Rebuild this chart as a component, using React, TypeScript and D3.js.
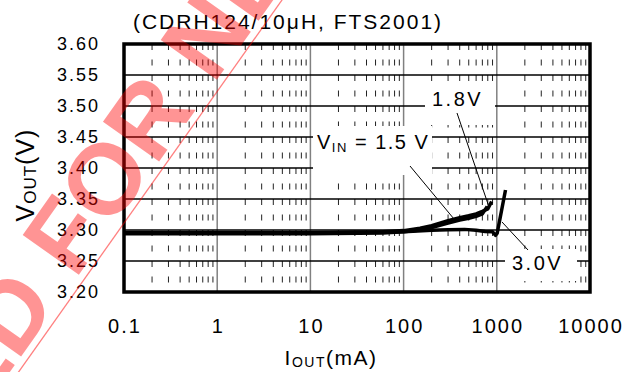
import React from "react";
import * as d3 from "d3";

const xTicks = [0.1, 1, 10, 100, 1000, 10000];
const xTickLabels = ["0.1", "1", "10", "100", "1000", "10000"];
const yTicks = [3.2, 3.25, 3.3, 3.35, 3.4, 3.45, 3.5, 3.55, 3.6];
const yTickLabels = ["3.20", "3.25", "3.30", "3.35", "3.40", "3.45", "3.50", "3.55", "3.60"];

const iout15 = [0.1, 10, 60, 100, 150, 200, 300, 400, 500, 600, 700, 790];
const vout15 = [3.294, 3.294, 3.295, 3.297, 3.3, 3.304, 3.311, 3.316, 3.319, 3.322, 3.326, 3.338];
const iout18 = [0.1, 10, 60, 100, 150, 200, 300, 400, 500, 600, 700, 800, 880];
const vout18 = [3.296, 3.296, 3.297, 3.299, 3.303, 3.307, 3.315, 3.32, 3.323, 3.326, 3.33, 3.334, 3.346];
const iout30 = [0.1, 10, 100, 200, 300, 450, 600, 750, 900, 970, 1010, 1240];
const vout30 = [3.295, 3.295, 3.297, 3.2995, 3.3005, 3.301, 3.2995, 3.2975, 3.297, 3.2915, 3.295, 3.3645];

const W = 636, H = 372;
const L = 124, R = 590, T = 44, B = 292;

export default function App() {
  const x = d3.scaleLog().domain([0.1, 10000]).range([L, R]);
  const y = d3.scaleLinear().domain([3.2, 3.6]).range([B, T]);
  const line = d3.line<[number, number]>().x(d => x(d[0])).y(d => y(d[1]));
  const series = [
    iout15.map((v, i) => [v, vout15[i]] as [number, number]),
    iout18.map((v, i) => [v, vout18[i]] as [number, number]),
    iout30.map((v, i) => [v, vout30[i]] as [number, number]),
  ];
  const minors: number[] = [];
  [0.1, 1, 10, 100, 1000].forEach(d => { for (let k = 2; k <= 9; k++) minors.push(k * d); });
  const font = "'Liberation Sans', Arial, sans-serif";
  const S = 100;
  const tF = 105;
  const base = -7;
  return (
    <svg width={W} height={H} style={{ position: "absolute", left: 0, top: 0, background: "#fff" }} fontFamily={font}>
      <rect x={0} y={0} width={W} height={H} fill="#fff" />
      {minors.map((m, i) => (
        <line key={"m" + i} x1={x(m)} x2={x(m)} y1={T} y2={B} stroke="#222" strokeWidth={1} strokeDasharray="6 9.5" />
      ))}
      {xTicks.slice(1, -1).map((t, i) => (
        <line key={"d" + i} x1={x(t)} x2={x(t)} y1={T} y2={B} stroke="#808080" strokeWidth={1.5} />
      ))}
      {yTicks.slice(1, -1).map((t, i) => (
        <line key={"h" + i} x1={L} x2={R} y1={y(t)} y2={y(t)} stroke="#000" strokeWidth={1.3} />
      ))}
      <rect x={425} y={83} width={70} height={42} fill="#fff" />
      <rect x={313} y={126} width={119} height={49} fill="#fff" />
      <rect x={505} y={249} width={72} height={32} fill="#fff" />
      <text x={432} y={106} fontSize={20} letterSpacing={2.5} fill="#000">1.8V</text>
      <text x={317} y={149} fontSize={20} letterSpacing={1.5} fill="#000">
        V<tspan fontSize={13} dy={3}>IN</tspan><tspan dy={-3}> = 1.5 V</tspan>
      </text>
      <text x={512} y={270} fontSize={20} letterSpacing={2.5} fill="#000">3.0V</text>
      <line x1={457} y1={113} x2={488} y2={204} stroke="#000" strokeWidth={1} />
      <line x1={410} y1={166} x2={454} y2={219} stroke="#000" strokeWidth={1} />
      <line x1={502} y1={222} x2={528} y2={250} stroke="#000" strokeWidth={1} />
      {series.map((s, i) => (
        <path key={"s" + i} d={line(s) || ""} fill="none" stroke="#000" strokeWidth={3.5} strokeLinejoin="round" />
      ))}
      <rect x={L} y={T} width={R - L} height={B - T} fill="none" stroke="#000" strokeWidth={3.5} />
      {yTicks.map((t, i) => (
        <text key={"yl" + i} x={100} y={y(t)} dy="0.36em" textAnchor="end" fontSize={18} letterSpacing={2} fill="#000">{yTickLabels[i]}</text>
      ))}
      {xTicks.map((t, i) => (
        <text key={"xl" + i} x={x(t) + 1} y={333} textAnchor="middle" fontSize={20} letterSpacing={2} fill="#000">{xTickLabels[i]}</text>
      ))}
      <text x={288} y={29} textAnchor="middle" fontSize={21} letterSpacing={2} fill="#000">(CDRH124/10μH, FTS2001)</text>
      <text x={331} y={365} textAnchor="middle" fontSize={21} letterSpacing={1.5} fill="#000">
        I<tspan fontSize={14} dy={2}>OUT</tspan><tspan dy={-2}>(mA)</tspan>
      </text>
      <text transform="translate(34,175) rotate(-90)" textAnchor="middle" fontSize={25} letterSpacing={1} fill="#000">
        V<tspan fontSize={17} dy={2}>OUT</tspan><tspan dy={-2}>(V)</tspan>
      </text>
      <g transform="translate(20,370) rotate(-54.7)">
        <line x1={-400} y1={0} x2={900} y2={0} stroke="#f00" strokeOpacity={0.5} strokeWidth={1.3} />
        <text x={tF - 0.278 * S} y={base} textAnchor="end" fontSize={S} fontWeight="bold" fill="#f00" fillOpacity={0.42}>NOT RECOMMENDED</text>
        <text x={tF} y={base} fontSize={S} fontWeight="bold" fill="#f00" fillOpacity={0.42}>FOR NEW DESIGN</text>
      </g>
    </svg>
  );
}
